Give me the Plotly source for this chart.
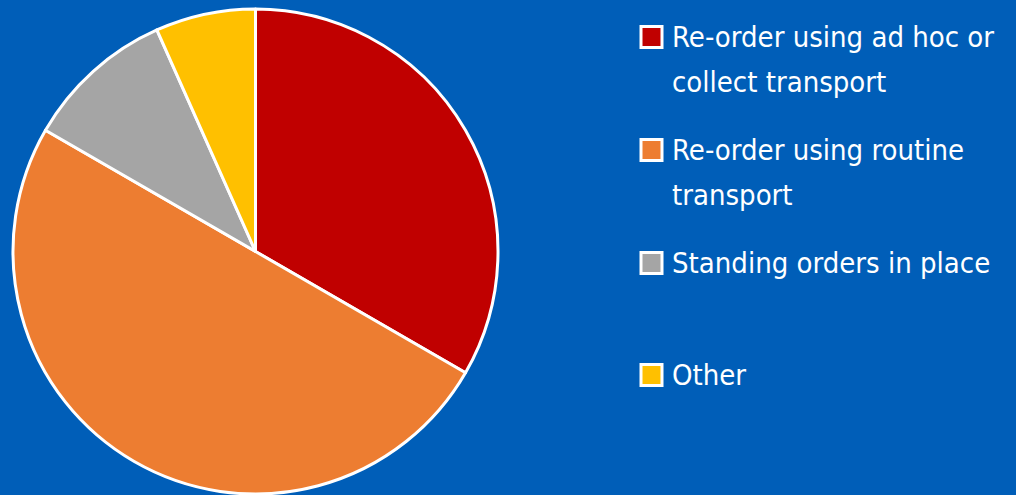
import plotly.graph_objects as go

# Share of responses by ordering approach
labels = [
    "Re-order using ad hoc or<br>collect transport",
    "Re-order using routine<br>transport",
    "Standing orders in place",
    "Other",
]
values = [10, 15, 3, 2]
colors = ["#C00000", "#ED7D31", "#A5A5A5", "#FFC000"]

BG = "#005EB8"
W, H = 1016, 495
FONT = "DejaVu Sans Condensed, Liberation Sans Narrow, sans-serif"
FONT_SIZE = 29
LINE_GAP = 45  # pixels between wrapped lines

fig = go.Figure(
    go.Pie(
        labels=labels,
        values=values,
        sort=False,
        direction="clockwise",
        rotation=0,
        marker=dict(colors=colors, line=dict(color="white", width=3)),
        textinfo="none",
        hoverinfo="label+percent",
        domain=dict(x=[13 / W, 498 / W], y=[1 / H, 486 / H]),
        showlegend=False,
    )
)

# Legend entries drawn as swatches plus text, one row per category
row_centers = [37, 150, 263, 375]
shapes = []
annotations = []
for lab, col, yc in zip(labels, colors, row_centers):
    shapes.append(
        dict(
            type="rect", xref="paper", yref="paper",
            x0=641 / W, x1=662 / W,
            y0=1 - (yc + 10.5) / H, y1=1 - (yc - 10.5) / H,
            fillcolor=col, line=dict(color="white", width=3),
        )
    )
    for i, line in enumerate(lab.split("<br>")):
        annotations.append(
            dict(
                text=line, xref="paper", yref="paper",
                x=670 / W, y=1 - (yc + i * LINE_GAP) / H,
                xanchor="left", yanchor="middle", align="left",
                showarrow=False,
                font=dict(family=FONT, size=FONT_SIZE, color="white"),
            )
        )

fig.update_layout(
    width=W, height=H,
    margin=dict(l=0, r=0, t=0, b=0),
    paper_bgcolor=BG, plot_bgcolor=BG,
    shapes=shapes, annotations=annotations,
)

fig.write_html("out.html")
